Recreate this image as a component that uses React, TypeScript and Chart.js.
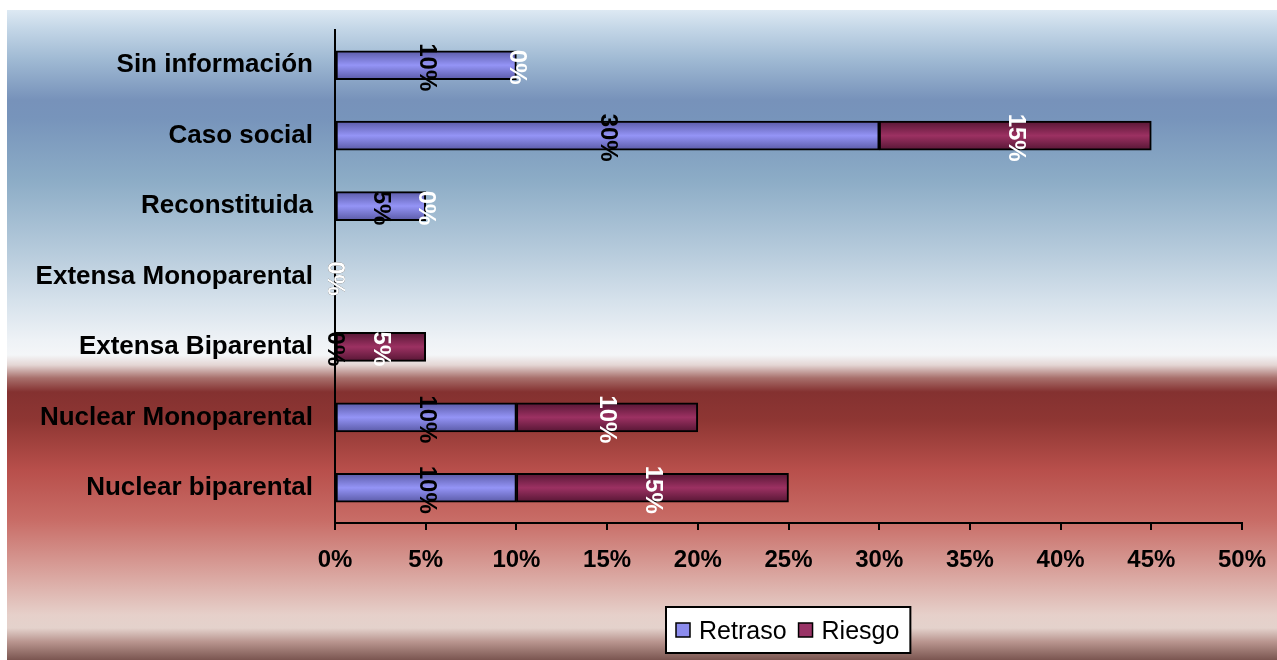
import React, { useEffect, useRef } from "react";
import { Chart, registerables } from "chart.js";

Chart.register(...registerables);

const categories = [
  "Sin información",
  "Caso social",
  "Reconstituida",
  "Extensa Monoparental",
  "Extensa Biparental",
  "Nuclear Monoparental",
  "Nuclear biparental",
];
const retraso = [10, 30, 5, 0, 0, 10, 10];
const riesgo = [0, 15, 0, 0, 5, 10, 15];
const seriesNames = ["Retraso", "Riesgo"];
const xTicks = [0, 5, 10, 15, 20, 25, 30, 35, 40, 45, 50];

const FONT = "'Liberation Sans', Arial, Helvetica, sans-serif";
const BAR_THICK = 29;
const barColors = [
  { edge: "#5a5aa6", mid: "#9494f6", solid: "#8c8cee", label: "#000000" },
  { edge: "#561634", mid: "#9c3162", solid: "#993366", label: "#ffffff" },
];

const bgPlugin = {
  id: "bgGradient",
  beforeDraw(chart: any) {
    const { ctx, width, height } = chart;
    ctx.save();
    ctx.fillStyle = "#ffffff";
    ctx.fillRect(0, 0, width, height);
    const top = 10;
    const g = ctx.createLinearGradient(0, top, 0, height);
    const stops: [number, string][] = [
      [10, "#dde9f3"],
      [30, "#c2d5e6"],
      [60, "#9fb9d3"],
      [100, "#7792ba"],
      [118, "#7794bb"],
      [180, "#8cacc6"],
      [250, "#b5cadb"],
      [300, "#d5e1eb"],
      [340, "#eef2f6"],
      [355, "#f4f6f8"],
      [365, "#e4d6d4"],
      [378, "#a8706c"],
      [392, "#843130"],
      [420, "#8e3633"],
      [470, "#b84f4b"],
      [520, "#c86c66"],
      [570, "#d8a09a"],
      [615, "#e6d0ca"],
      [628, "#e4d2cc"],
      [642, "#b8948e"],
      [660, "#7a5550"],
    ];
    for (const [y, c] of stops) g.addColorStop(Math.min(1, Math.max(0, (y - top) / (660 - top))), c);
    ctx.fillStyle = g;
    ctx.fillRect(7, top, width - 7, height - top);
    ctx.restore();
  },
};

const labelPlugin = {
  id: "rotLabels",
  afterDatasetsDraw(chart: any) {
    const { ctx } = chart;
    ctx.save();
    ctx.font = `bold 24px ${FONT}`;
    ctx.textAlign = "center";
    ctx.textBaseline = "middle";
    chart.data.datasets.forEach((ds: any, i: number) => {
      const meta = chart.getDatasetMeta(i);
      ctx.fillStyle = barColors[i].label;
      meta.data.forEach((bar: any, j: number) => {
        const p = bar.getProps(["x", "base", "y"], true);
        const cx = (p.x + p.base) / 2;
        ctx.save();
        ctx.translate(cx, p.y + 2);
        ctx.rotate(Math.PI / 2);
        ctx.fillText(ds.data[j] + "%", 0, 0);
        ctx.restore();
      });
    });
    ctx.restore();
  },
};

const legendPlugin = {
  id: "boxLegend",
  afterDraw(chart: any) {
    const { ctx, chartArea } = chart;
    ctx.save();
    ctx.font = `25px ${FONT}`;
    const sq = 14;
    const padL = 10;
    const gap = 9;
    const between = 12;
    const padR = 11;
    const widths = seriesNames.map((n) => ctx.measureText(n).width);
    let total = padL + padR + between * (seriesNames.length - 1);
    widths.forEach((w) => (total += sq + gap + w));
    const cx = (chartArea.left + chartArea.right) / 2;
    const left = Math.round(cx - total / 2);
    const top = 607;
    const h = 46;
    ctx.fillStyle = "#ffffff";
    ctx.fillRect(left, top, total, h);
    ctx.strokeStyle = "#000000";
    ctx.lineWidth = 2;
    ctx.strokeRect(left, top, total, h);
    let x = left + padL;
    const cy = top + h / 2;
    seriesNames.forEach((n, i) => {
      ctx.fillStyle = barColors[i].solid;
      ctx.fillRect(x, cy - sq / 2, sq, sq);
      ctx.lineWidth = 1.5;
      ctx.strokeRect(x, cy - sq / 2, sq, sq);
      x += sq + gap;
      ctx.fillStyle = "#000000";
      ctx.textBaseline = "middle";
      ctx.textAlign = "left";
      ctx.fillText(n, x, cy + 2);
      x += widths[i] + between;
    });
    ctx.restore();
  },
};

function barGradient(i: number) {
  return (c: any) => {
    const chart = c.chart;
    const ys = chart.scales && chart.scales.y;
    if (!ys || c.dataIndex === undefined) return barColors[i].solid;
    const y = ys.getPixelForValue(c.dataIndex);
    if (!Number.isFinite(y)) return barColors[i].solid;
    const g = chart.ctx.createLinearGradient(0, y - BAR_THICK / 2, 0, y + BAR_THICK / 2);
    g.addColorStop(0, barColors[i].edge);
    g.addColorStop(0.5, barColors[i].mid);
    g.addColorStop(1, barColors[i].edge);
    return g;
  };
}

export default function App() {
  const ref = useRef<HTMLCanvasElement>(null);
  useEffect(() => {
    document.body.style.margin = "0";
    Chart.defaults.font.family = FONT;
    const chart = new Chart(ref.current as HTMLCanvasElement, {
      type: "bar",
      data: {
        labels: categories,
        datasets: [
          {
            label: seriesNames[0],
            data: retraso,
            backgroundColor: barGradient(0),
            borderColor: "#000000",
            borderWidth: 2,
            borderSkipped: false,
            barThickness: BAR_THICK,
          },
          {
            label: seriesNames[1],
            data: riesgo,
            backgroundColor: barGradient(1),
            borderColor: "#000000",
            borderWidth: 2,
            borderSkipped: false,
            barThickness: BAR_THICK,
          },
        ],
      },
      options: {
        indexAxis: "y",
        animation: false,
        responsive: true,
        maintainAspectRatio: false,
        layout: { padding: { top: 30, right: 35, left: 0, bottom: 0 } },
        plugins: { legend: { display: false }, tooltip: { enabled: false } },
        scales: {
          x: {
            stacked: true,
            min: 0,
            max: 50,
            afterFit: (s: any) => {
              s.height = 137;
              s.paddingLeft = 0;
              s.paddingRight = 0;
            },
            afterBuildTicks: (s: any) => {
              s.ticks = xTicks.map((v) => ({ value: v }));
            },
            ticks: {
              callback: (v: any) => v + "%",
              color: "#000000",
              font: { size: 24, weight: "bold" },
              padding: 16,
              maxRotation: 0,
              autoSkip: false,
            },
            grid: {
              display: true,
              drawOnChartArea: false,
              drawTicks: true,
              tickLength: 7,
              color: "#000000",
              lineWidth: 2,
            },
            border: { display: true, color: "#000000", width: 2 },
          },
          y: {
            stacked: true,
            afterFit: (s: any) => {
              s.width = 335;
              s.paddingTop = 0;
              s.paddingBottom = 0;
            },
            ticks: {
              color: "#000000",
              font: { size: 26, weight: "bold" },
              padding: 22,
              autoSkip: false,
            },
            grid: { display: false, drawTicks: false },
            border: { display: true, color: "#000000", width: 2 },
          },
        },
      },
      plugins: [bgPlugin, labelPlugin, legendPlugin],
    });
    return () => chart.destroy();
  }, []);
  return (
    <div style={{ width: 1277, height: 660, position: "relative" }}>
      <canvas ref={ref} />
    </div>
  );
}
